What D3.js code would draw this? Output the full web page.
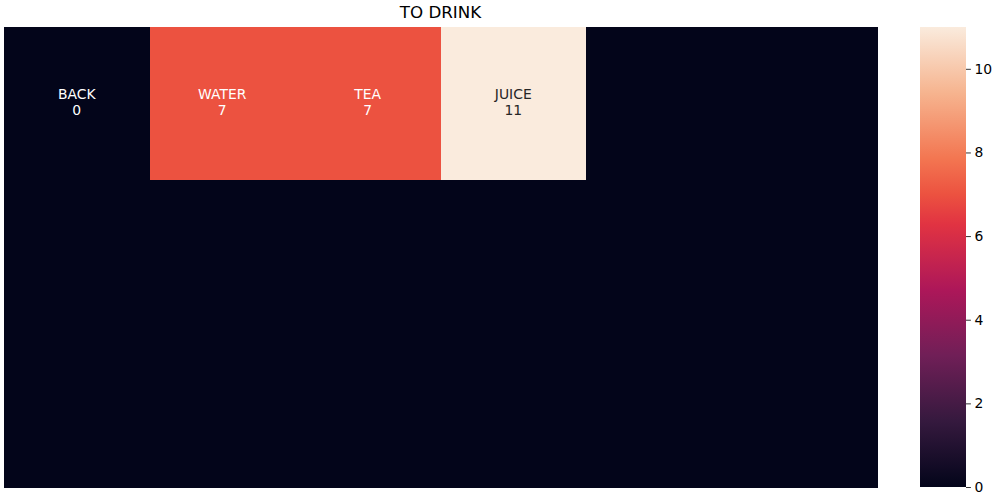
<!DOCTYPE html>
<html>
<head>
<meta charset="utf-8">
<script src="https://cdn.jsdelivr.net/npm/d3@7"></script>
<style>
  body { margin: 0; background: #fff; }
  svg { display: block; font-family: "DejaVu Sans", sans-serif; }
</style>
</head>
<body>
<svg id="chart" width="1000" height="500"></svg>
<script>
// data
let rowNames = ["r0", "r1", "r2"];
let colNames = ["c0", "c1", "c2", "c3", "c4", "c5"];
let row0Values = [0, 7, 7, 11, 0, 0];
let row1Values = [0, 0, 0, 0, 0, 0];
let row2Values = [0, 0, 0, 0, 0, 0];
let row0Labels = ["BACK", "WATER", "TEA", "JUICE", "", ""];
let row1Labels = ["", "", "", "", "", ""];
let row2Labels = ["", "", "", "", "", ""];
let colorTicks = [0, 2, 4, 6, 8, 10];
let vMin = 0, vMax = 11;
let title = "TO DRINK";

// rocket colormap stops (seaborn)
let rocketStops = ["#03051a", "#35193e", "#701f57", "#ad1759", "#e13342", "#ec5240", "#f37651", "#f6b48f", "#faebdd"];
let rocketPos = [0, 1 / 7, 2 / 7, 3 / 7, 4 / 7, 7 / 11, 5 / 7, 6 / 7, 1];

let svg = d3.select("#chart");

// plot area
let plotLeft = 4, plotRight = 877, plotTop = 27, plotBottom = 487;

let values = [row0Values, row1Values, row2Values];
let labels = [row0Labels, row1Labels, row2Labels];

let cells = [];
values.forEach((row, r) => {
    row.forEach((v, c) => {
        cells.push({ row: rowNames[r], col: colNames[c], value: v, label: labels[r][c] });
    });
});

let x = d3.scaleBand().domain(colNames).range([plotLeft, plotRight]).padding(0);
let y = d3.scaleBand().domain(rowNames).range([plotTop, plotBottom]).padding(0);

let color = d3.scaleLinear()
    .domain(rocketPos.map(p => vMin + p * (vMax - vMin)))
    .range(rocketStops)
    .interpolate(d3.interpolateRgb)
    .clamp(true);

svg.append("g")
    .selectAll("rect")
    .data(cells)
    .join("rect")
    .attr("x", d => x(d.col))
    .attr("y", d => y(d.row))
    .attr("width", x.bandwidth() + 0.5)
    .attr("height", y.bandwidth() + 0.5)
    .attr("fill", d => color(d.value))
    .attr("shape-rendering", "crispEdges");

// annotations: label + value on two lines
let annot = svg.append("g")
    .selectAll("text")
    .data(cells.filter(d => d.label !== ""))
    .join("text")
    .attr("text-anchor", "middle")
    .attr("font-size", "13.9px")
    .attr("fill", d => d3.hsl(color(d.value)).l > 0.6 ? "#262626" : "#ffffff");

annot.append("tspan")
    .attr("x", d => x(d.col) + x.bandwidth() / 2)
    .attr("y", d => y(d.row) + y.bandwidth() / 2 - 5)
    .text(d => d.label);

annot.append("tspan")
    .attr("x", d => x(d.col) + x.bandwidth() / 2)
    .attr("y", d => y(d.row) + y.bandwidth() / 2 + 11)
    .text(d => d.value);

// title
svg.append("text")
    .attr("x", (plotLeft + plotRight) / 2)
    .attr("y", 18)
    .attr("text-anchor", "middle")
    .attr("font-size", "16.7px")
    .attr("fill", "#000")
    .text(title);

// colorbar
let cbLeft = 920, cbWidth = 46;
let cbScale = d3.scaleLinear().domain([vMin, vMax]).range([plotBottom, plotTop]);

let defs = svg.append("defs");
let grad = defs.append("linearGradient")
    .attr("id", "rocketGrad")
    .attr("x1", 0).attr("y1", 1).attr("x2", 0).attr("y2", 0);
grad.selectAll("stop")
    .data(rocketPos)
    .join("stop")
    .attr("offset", d => d)
    .attr("stop-color", (d, i) => rocketStops[i]);

svg.append("rect")
    .attr("x", cbLeft)
    .attr("y", plotTop)
    .attr("width", cbWidth)
    .attr("height", plotBottom - plotTop)
    .attr("fill", "url(#rocketGrad)");

let cbAxis = svg.append("g")
    .attr("transform", `translate(${cbLeft + cbWidth},0)`)
    .call(d3.axisRight(cbScale).tickValues(colorTicks).tickSize(4.9).tickPadding(3.5));
cbAxis.select(".domain").remove();
cbAxis.selectAll("line").attr("stroke", "#000").attr("stroke-width", 0.8);
cbAxis.selectAll("text").attr("font-size", "13.9px").attr("fill", "#000").attr("font-family", "DejaVu Sans");
</script>
</body>
</html>
